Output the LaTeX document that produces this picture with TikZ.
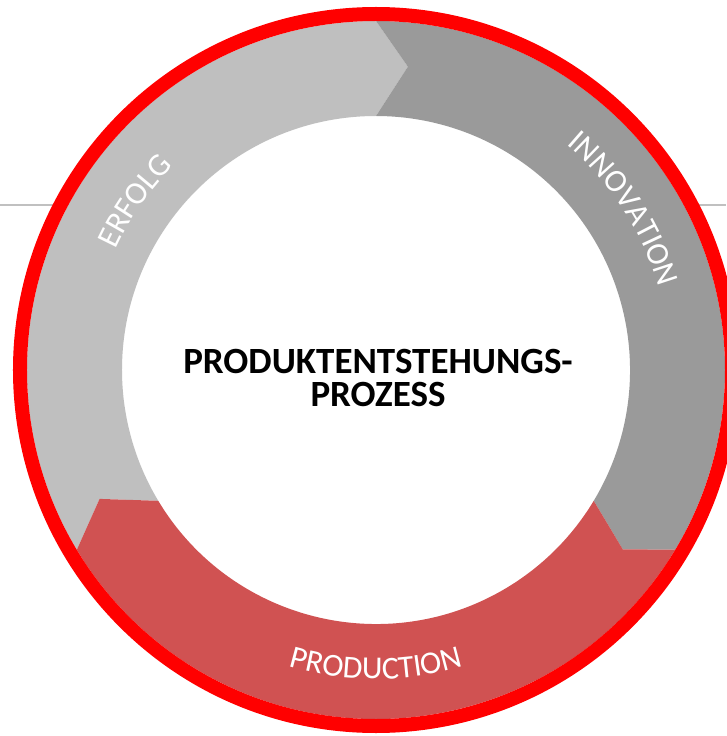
\documentclass[tikz,border=0pt]{standalone}
\usepackage{fontspec}
\setmainfont{Carlito}
\usepackage{tikz}
\usetikzlibrary{decorations.text}

\definecolor{segLight}{HTML}{BFBFBF}
\definecolor{segDark}{HTML}{9A9A9A}
\definecolor{segRed}{HTML}{D05252}
\definecolor{ringRed}{HTML}{FF0000}
\definecolor{ruleGray}{HTML}{C0C0C0}
\newcommand{\labelfont}{\fontsize{32}{34}\selectfont}

\begin{document}
\begin{tikzpicture}[x=1pt, y=1pt]
    % Define styles
    \tikzstyle{rule} = [draw=ruleGray, line width=1.5pt]
    \tikzstyle{lightseg} = [fill=segLight]
    \tikzstyle{darkseg} = [fill=segDark]
    \tikzstyle{redseg} = [fill=segRed]
    \tikzstyle{ring} = [draw=ringRed, line width=14pt]
    \tikzstyle{title} = [align=center, font=\fontsize{37}{33}\selectfont\bfseries]
    \tikzstyle{label} = [decorate, decoration={text along path, text align=center, text color=white}]

    \useasboundingbox (-376,-366) rectangle (350,370);

    % Background line
    \coordinate (ruleL) at (-376,165);
    \coordinate (ruleR) at (350,165);
    \draw [rule] (ruleL) -- (ruleR);
    \fill [white] (0,0) circle[radius=349];

    % Segments
    \path [lightseg] (211:349) arc[start angle=211, end angle=90, radius=349] -- (84:305)
        -- (90:254) arc[start angle=90, end angle=211, radius=254] -- (205:305) -- cycle;
    \path [darkseg] (90:349) arc[start angle=90, end angle=-31, radius=349] -- (-36:305)
        -- (-31:254) arc[start angle=-31, end angle=90, radius=254] -- (84:305) -- cycle;
    \path [redseg] (-31:349) arc[start angle=-31, end angle=-149, radius=349] -- (-155:305)
        -- (-149:254) arc[start angle=-149, end angle=-31, radius=254] -- (-36:305) -- cycle;

    % Outer ring
    \draw [ring] (0,0) circle[radius=356];

    % Labels
    \path [label, decoration={text={|\labelfont|ERFOLG}}] (175:287) arc[start angle=175, end angle=115, radius=287];
    \path [label, decoration={text={|\labelfont|INNOVATION}}] (63:295) arc[start angle=63, end angle=3, radius=295];
    \path [label, decoration={text={|\labelfont|PRODUCTION}}] (-120:309) arc[start angle=-120, end angle=-60, radius=309];

    % Nodes
    \node (process) [title] at (2,-8) {PRODUKTENTSTEHUNGS-\\PROZESS};
\end{tikzpicture}
\end{document}
